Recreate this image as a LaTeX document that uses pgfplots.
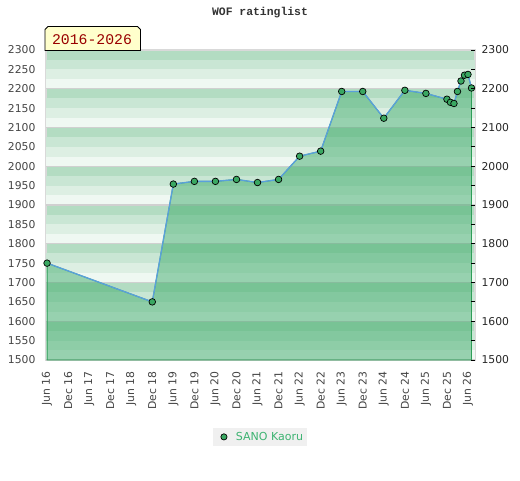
\documentclass[border=0pt]{standalone}
\usepackage{fontspec}
\setmainfont{DejaVu Sans}
\newfontfamily\monofont{Liberation Mono}
\usepackage{pgfplots}
\pgfplotsset{compat=1.18}
\usepackage{pgfplotstable}

\definecolor{bandA}{RGB}{179,220,194}
\definecolor{bandB}{RGB}{201,230,212}
\definecolor{bandC}{RGB}{221,239,227}
\definecolor{bandD}{RGB}{239,248,242}
\definecolor{areaG}{RGB}{56,168,102}
\definecolor{lineB}{RGB}{90,160,220}
\definecolor{markG}{RGB}{58,168,98}
\definecolor{edgeG}{RGB}{46,158,88}
\definecolor{legG}{RGB}{60,179,113}
\definecolor{legBg}{RGB}{240,240,240}
\definecolor{frameC}{RGB}{217,217,217}
\definecolor{sepC}{RGB}{208,208,208}
\definecolor{boxY}{RGB}{255,255,204}
\definecolor{boxR}{RGB}{153,0,0}
\definecolor{labC}{RGB}{68,68,68}
\definecolor{titleC}{RGB}{51,51,51}

% months since Jun 2016, rating
\pgfplotstableread{
m r
0 1750
30 1650
36 1954
42 1961
48 1961
54 1966
60 1958
66 1966
72 2026
78 2039
84 2193
90 2193
96 2124
102 2196
108 2188
114 2173
115 2165
116 2162
117 2193
118 2220
119 2235
120 2237
121 2202
}\ratings

\pgfplotsset{
  /pgf/number format/assume math mode=true,
  /pgf/number format/1000 sep={},
}

\begin{document}
\begin{tikzpicture}
\path[use as bounding box] (0pt,0pt) rectangle (520pt,480pt);
\begin{axis}[
  at={(46pt,120pt)}, anchor=south west, scale only axis,
  width=429pt, height=310pt,
  xmin=-0.3, xmax=122, ymin=1500, ymax=2300,
  xtick={0,6,...,120},
  xticklabels={Jun 16,Dec 16,Jun 17,Dec 17,Jun 18,Dec 18,Jun 19,Dec 19,Jun 20,Dec 20,Jun 21,Dec 21,Jun 22,Dec 22,Jun 23,Dec 23,Jun 24,Dec 24,Jun 25,Dec 25,Jun 26},
  ytick={1500,1550,...,2300},
  ytick pos=left, xtick pos=bottom,
  major tick length=0pt,
  axis line style={frameC, line width=1.5pt},
  axis background/.style={fill=bandA},
  tick label style={font=\fontsize{10.8}{12}\selectfont, text=labC},
  x tick label style={rotate=90, anchor=east},
  xticklabel shift=8pt,
  yticklabel shift=7pt,
  clip mode=individual,
  legend style={at={(0.4988,-0.248)}, anchor=center, fill=legBg, draw=none,
    font=\fontsize{11}{13}\selectfont, text=legG, inner xsep=2pt, inner ysep=2.5pt},
]
\pgfplotsinvokeforeach{15,16,17,18,19,20,21,22}{
  \fill[bandD] (axis cs:-0.3,#100) rectangle (axis cs:122,#125);
  \fill[bandC] (axis cs:-0.3,#125) rectangle (axis cs:122,#150);
  \fill[bandB] (axis cs:-0.3,#150) rectangle (axis cs:122,#175);
  \draw[sepC, line width=1.2pt] (axis cs:-0.3,#100) -- (axis cs:122,#100);
}
\addlegendimage{legend image code/.code={
  \path[draw=none] (-5pt,0pt) (14pt,0pt);
  \draw[fill=markG, draw=black, line width=0.7pt] (4pt,0pt) circle (3.1pt);}}
\addlegendentry{SANO Kaoru}
\addplot[forget plot, draw=edgeG, line width=0.9pt, fill=areaG, fill opacity=0.48, draw opacity=1]
  table[x=m, y=r]{\ratings} \closedcycle;
\addplot[forget plot, lineB, line width=1.3pt, mark=*, mark size=3.3pt,
  mark options={fill=markG, draw=black, line width=0.7pt}]
  table[x=m, y=r]{\ratings};
\end{axis}
\begin{axis}[
  at={(46pt,120pt)}, anchor=south west, scale only axis,
  width=429pt, height=310pt,
  xmin=-0.3, xmax=122, ymin=1500, ymax=2300,
  axis x line=none, axis y line*=right,
  y axis line style={draw=none},
  ytick={1500,1600,...,2300},
  minor ytick={1550,1650,...,2250},
  tick align=inside,
  major tick length=4pt, minor tick length=4pt,
  every tick/.style={black, line width=0.8pt},
  every minor tick/.style={black, line width=0.8pt},
  tick label style={font=\fontsize{10.8}{12}\selectfont, text=black!85},
  yticklabel shift=3pt,
]
\end{axis}
\node[font=\monofont\bfseries\fontsize{11.4}{13}\selectfont, text=titleC] at (260pt,467pt) {WOF ratinglist};
\draw[fill=boxY, draw=black, line width=0.8pt] (45pt,429.5pt) -- (45pt,450.5pt) -- (48pt,453.5pt) -- (137.5pt,453.5pt) -- (140.5pt,450.5pt) -- (140.5pt,429.5pt) -- cycle;
\node[font=\monofont\fontsize{14.8}{16}\selectfont, text=boxR] at (92pt,440.5pt) {2016-2026};
\end{tikzpicture}
\end{document}
